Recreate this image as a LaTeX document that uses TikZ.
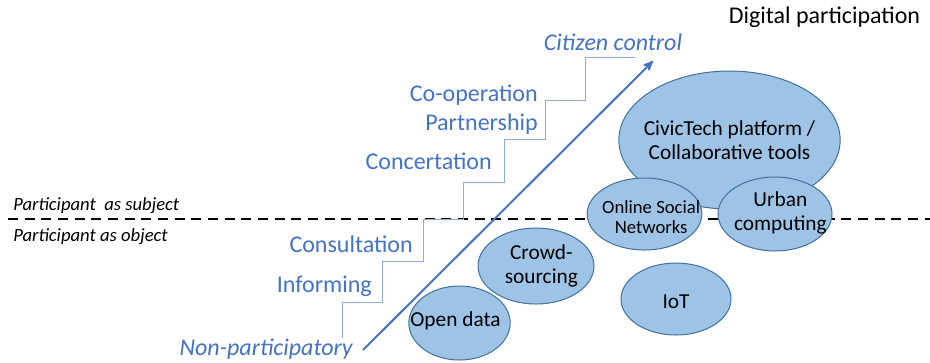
\documentclass[tikz,border=0pt]{standalone}
\usepackage{fontspec}
\setmainfont{Carlito}
\usetikzlibrary{arrows}
\usetikzlibrary{shapes.geometric}

\definecolor{ladderblue}{HTML}{4472C4}
\definecolor{stairblue}{HTML}{8FAADC}
\definecolor{bubblefill}{HTML}{9DC3E6}
\definecolor{bubbleline}{HTML}{41719C}

\begin{document}
\begin{tikzpicture}[x=0.75pt,y=-0.75pt,
    rung/.style={text=ladderblue,font=\fontsize{18}{21}\selectfont,anchor=base east,inner sep=0pt},
    side/.style={font=\fontsize{14}{16}\selectfont\itshape,anchor=base west,inner sep=0pt},
    bubble/.style={draw=bubbleline,fill=bubblefill,ellipse,line width=0.75pt,inner sep=0pt},
    bubbletext/.style={align=center,inner sep=0pt,font=\fontsize{16}{18}\selectfont}]

  \useasboundingbox (0,0) rectangle (930,362);

  \coordinate (dash_l) at (8,219);
  \coordinate (dash_r) at (930,219);
  \path [draw,line width=2.2pt,dash pattern=on 7.5pt off 5pt] (dash_l) -- (dash_r);

  \node [side] (subj) at (13,210) {Participant~ as subject};
  \node [side] (obj)  at (13,241.7) {Participant as object};

  \draw [stairblue,line width=0.75pt] (342,338) |- (382,302) |- (423,261) |- (463,219)
    |- (504,182) |- (545,139) |- (585,100) |- (635,57);

  \coordinate (arr_s) at (363,350);
  \coordinate (arr_e) at (653,61);
  \path [draw,ladderblue,line width=1.5pt,->,>=stealth'] (arr_s) -- (arr_e);

  \node [rung,font=\fontsize{18}{21}\selectfont\itshape] (nonpart) at (353,355) {Non-participatory};
  \node [rung] (inform)  at (372,292.7) {Informing};
  \node [rung] (consult) at (413,252) {Consultation};
  \node [rung] (concert) at (492,169.3) {Concertation};
  \node [rung] (partner) at (538,130) {Partnership};
  \node [rung] (coop)    at (538,101.7) {Co-operation};
  \node [rung,anchor=base,font=\fontsize{18}{21}\selectfont\itshape] (citizen) at (613,50) {Citizen control};

  \node [anchor=base,inner sep=0pt,font=\fontsize{18}{21}\selectfont] (digital) at (824.5,23.3) {Digital participation};

  \node [bubble,minimum width=166pt,minimum height=103.5pt,
    label={[bubbletext]center:CivicTech platform /\\Collaborative tools}] (civic) at (729.5,140) {};
  \node [bubble,minimum width=86pt,minimum height=54pt,
    label={[bubbletext,font=\fontsize{14}{15}\selectfont,xshift=5pt,yshift=-2pt]center:Online Social\\Networks}] (osn) at (644.5,214) {};
  \node [bubble,minimum width=85.5pt,minimum height=55.5pt,
    label={[bubbletext,xshift=4pt,yshift=1pt]center:Urban\\computing}] (urban) at (775,214) {};
  \node [bubble,minimum width=87pt,minimum height=57pt,
    label={[bubbletext,xshift=4pt]center:Crowd-\\sourcing}] (crowd) at (536,266) {};
  \node [bubble,minimum width=76pt,minimum height=55.5pt,
    label={[bubbletext,xshift=-3pt,yshift=2pt]center:Open data}] (opendata) at (459.5,323) {};
  \node [bubble,minimum width=82.5pt,minimum height=54pt,
    label={[bubbletext,yshift=-2pt]center:IoT}] (iot) at (676,299) {};

\end{tikzpicture}
\end{document}
